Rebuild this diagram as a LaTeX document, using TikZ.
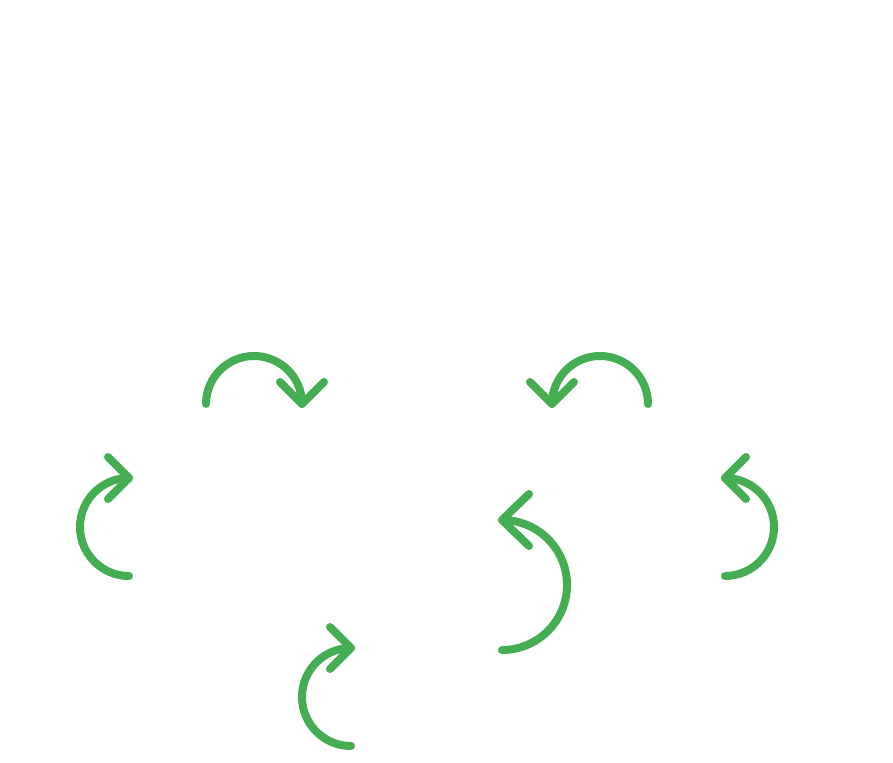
\documentclass[tikz,border=0pt]{standalone}
\definecolor{arrowgreen}{RGB}{70,174,82}
\begin{document}
\begin{tikzpicture}[x=1pt,y=1pt,
  curvearrow/.style={draw=arrowgreen,line width=8pt,line cap=round,line join=round}]
\useasboundingbox (0,0) rectangle (893,762);
% top-left arrow (clockwise over the top)
\coordinate (a1s) at (206,358);
\coordinate (a1t) at (302,358);
\draw[curvearrow] (a1s) arc[start angle=180,end angle=0,radius=48];
\draw[curvearrow] (280,380) -- (a1t) -- (324,380);
% top-right arrow
\coordinate (a2s) at (648,358);
\coordinate (a2t) at (552,358);
\draw[curvearrow] (a2s) arc[start angle=0,end angle=180,radius=48];
\draw[curvearrow] (530,380) -- (a2t) -- (574,380);
% left arrow
\coordinate (a3s) at (129,186);
\coordinate (a3t) at (129,284);
\draw[curvearrow] (a3s) arc[start angle=270,end angle=90,radius=49];
\draw[curvearrow] (108,305) -- (a3t) -- (108,263);
% bottom arrow
\coordinate (a4s) at (351,16);
\coordinate (a4t) at (351,114);
\draw[curvearrow] (a4s) arc[start angle=270,end angle=90,radius=49];
\draw[curvearrow] (330,135) -- (a4t) -- (330,93);
% large middle-right arrow
\coordinate (a5s) at (502,112);
\coordinate (a5t) at (502,242);
\draw[curvearrow] (a5s) arc[start angle=-90,end angle=90,radius=65];
\draw[curvearrow] (529,268) -- (a5t) -- (529,216);
% right arrow
\coordinate (a6s) at (725,186);
\coordinate (a6t) at (725,284);
\draw[curvearrow] (a6s) arc[start angle=-90,end angle=90,radius=49];
\draw[curvearrow] (746,305) -- (a6t) -- (746,263);
\end{tikzpicture}
\end{document}
